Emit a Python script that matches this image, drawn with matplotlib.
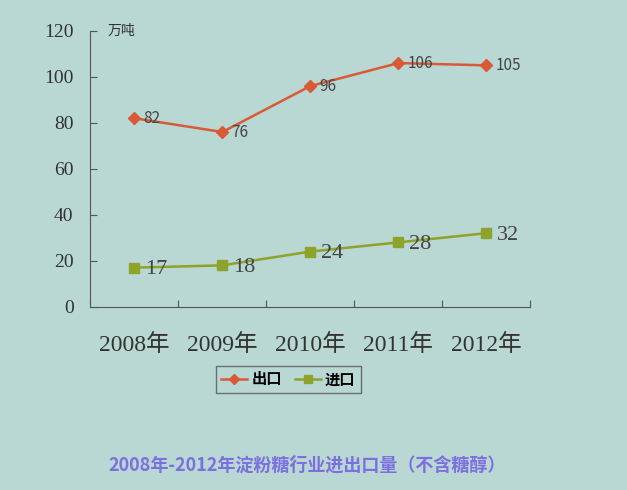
import matplotlib.pyplot as plt
import numpy as np

# 2008-2012 starch sugar import/export (10k tons)
years = ['2008年', '2009年', '2010年', '2011年', '2012年']
export_vals = [82, 76, 96, 106, 105]
import_vals = [17, 18, 24, 28, 32]
yticks = [0, 20, 40, 60, 80, 100, 120]

serif = ['Liberation Serif', 'Noto Sans CJK SC']
sans = ['Noto Sans CJK SC', 'DejaVu Sans']
bg = '#b9d7d3'

fig = plt.figure(figsize=(6.27, 4.90), dpi=100, facecolor=bg)
ax = fig.add_axes([0.144, 0.374, 0.702, 0.563])
ax.set_facecolor(bg)

x = np.arange(len(years))
ax.plot(x, export_vals, color='#d85a36', lw=1.8, marker='D', ms=6, label='出口')
ax.plot(x, import_vals, color='#8ea32b', lw=1.8, marker='s', ms=7, label='进口')

for i, v in enumerate(export_vals):
    ax.text(i + 0.1, v, str(v), fontsize=11, color='#444444', va='center', family=sans)
for i, v in enumerate(import_vals):
    ax.text(i + 0.12, v - 1, str(v), fontsize=16, color='#444444', va='center', family=serif)

ax.set_xlim(-0.5, 4.5)
ax.set_ylim(0, 120)
ax.set_yticks(yticks)
ax.set_yticklabels([str(t) for t in yticks], fontsize=14, color='#333333', family=serif)
ax.set_xticks(np.arange(len(years) + 1) - 0.5)
ax.set_xticklabels([])
ax.set_xticks(x, minor=True)
ax.set_xticklabels(years, minor=True, fontsize=17, color='#333333', family=serif)
ax.tick_params(axis='x', which='major', direction='in', length=5, color='#555555')
ax.tick_params(axis='x', which='minor', length=0, pad=20)
ax.tick_params(axis='y', direction='in', length=5, color='#555555', pad=12)
for s in ['top', 'right']:
    ax.spines[s].set_visible(False)
for s in ['left', 'bottom']:
    ax.spines[s].set_color('#555555')

ax.text(0.04, 1.0, '万吨', transform=ax.transAxes, fontsize=10, color='#333333',
        va='center', family=sans)

leg = fig.legend(loc='center', bbox_to_anchor=(0.46, 0.226), ncol=2, frameon=True,
                 fancybox=False, edgecolor='#555555', facecolor=bg,
                 prop={'family': sans, 'size': 11, 'weight': 'bold'}, handlelength=1.7,
                 handletextpad=0.3, columnspacing=0.8, borderpad=0.35, markerscale=0.8)

fig.text(0.49, 0.05, '2008年-2012年淀粉糖行业进出口量（不含糖醇）', ha='center', va='center',
         fontsize=13, color='#7c6fe0', fontweight='bold', family=sans)

fig.savefig('out.png', dpi=100, facecolor=bg)
